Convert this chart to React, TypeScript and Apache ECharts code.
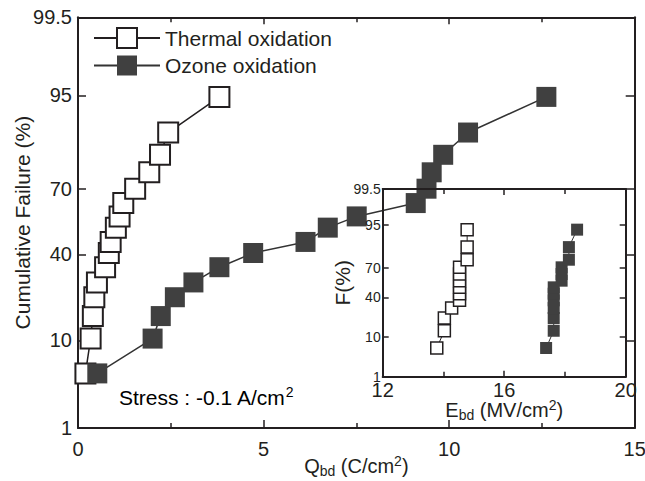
import React, { useEffect, useRef } from "react";
import * as echarts from "echarts";

// ---------- data ----------
// Main plot: charge-to-breakdown Qbd (C/cm2) vs cumulative failure (%)
const mainFailurePct = [4.7, 10.4, 16.1, 22.2, 27.8, 34.2, 40.6, 45.8, 52.6, 57.9, 64.0, 70.2, 76.6, 82.5, 88.5, 94.8];
const thermalQbd = [0.2, 0.34, 0.4, 0.44, 0.51, 0.73, 0.83, 0.88, 1.02, 1.12, 1.22, 1.54, 1.92, 2.21, 2.43, 3.81];
const ozoneQbd = [0.52, 2.01, 2.23, 2.61, 3.11, 3.81, 4.72, 6.13, 6.73, 7.51, 9.1, 9.39, 9.53, 9.84, 10.51, 12.62];

// Inset: breakdown field Ebd (MV/cm2) vs F (%)
const insetFailurePct = [5.75, 13.0, 21.4, 29.7, 37.0, 43.7, 50.3, 57.2, 63.9, 70.2, 76.7, 85.5, 93.5];
const insetThermalEbd = [13.78, 14.03, 14.03, 14.27, 14.53, 14.53, 14.53, 14.53, 14.53, 14.53, 14.78, 14.78, 14.78];
const insetOzoneEbd = [17.38, 17.63, 17.63, 17.63, 17.63, 17.63, 17.63, 17.89, 17.89, 17.89, 18.13, 18.13, 18.4];

// Probability-axis tick labels
const probTickPct = [1, 10, 40, 70, 95, 99.5];
const probTickLabels = ["1", "10", "40", "70", "95", "99.5"];

const seriesNames = ["Thermal oxidation", "Ozone oxidation"];

// ---------- helpers ----------
// inverse standard normal CDF (probit), used as the scale transform of the probability axis
function probit(p: number): number {
  const a = [-3.969683028665376e1, 2.209460984245205e2, -2.759285104469687e2, 1.38357751867269e2, -3.066479806614716e1, 2.506628277459239];
  const b = [-5.447609879822406e1, 1.615858368580409e2, -1.556989798598866e2, 6.680131188771972e1, -1.328068155288572e1];
  const c = [-7.784894002430293e-3, -3.223964580411365e-1, -2.400758277161838, -2.549732539343734, 4.374664141464968, 2.938163982698783];
  const d = [7.784695709041462e-3, 3.224671290700398e-1, 2.445134137142996, 3.754408661907416];
  const pl = 0.02425;
  const ph = 1 - pl;
  if (p < pl) {
    const q = Math.sqrt(-2 * Math.log(p));
    return (((((c[0] * q + c[1]) * q + c[2]) * q + c[3]) * q + c[4]) * q + c[5]) / ((((d[0] * q + d[1]) * q + d[2]) * q + d[3]) * q + 1);
  }
  if (p <= ph) {
    const q = p - 0.5;
    const r = q * q;
    return ((((((a[0] * r + a[1]) * r + a[2]) * r + a[3]) * r + a[4]) * r + a[5]) * q) / (((((b[0] * r + b[1]) * r + b[2]) * r + b[3]) * r + b[4]) * r + 1);
  }
  const q = Math.sqrt(-2 * Math.log(1 - p));
  return -(((((c[0] * q + c[1]) * q + c[2]) * q + c[3]) * q + c[4]) * q + c[5]) / ((((d[0] * q + d[1]) * q + d[2]) * q + d[3]) * q + 1);
}

const FONT = "'Liberation Sans', Arial, Helvetica, sans-serif";
const INK = "#231f20";
const FILL = "#404040";

export default function App() {
  const ref = useRef<HTMLDivElement>(null);

  useEffect(() => {
    if (!ref.current) return;
    const chart = echarts.init(ref.current, undefined, { renderer: "svg" });

    const tickZ = probTickPct.map((p) => probit(p / 100));
    const zMin = tickZ[0];
    const zMax = tickZ[tickZ.length - 1];
    const fmtProb = (v: number) => {
      let best = 0;
      for (let i = 1; i < tickZ.length; i++) if (Math.abs(tickZ[i] - v) < Math.abs(tickZ[best] - v)) best = i;
      return probTickLabels[best];
    };

    const rich = {
      n: { fontSize: 20, fontFamily: FONT, color: INK, lineHeight: 24 },
      sub: { fontSize: 14, fontFamily: FONT, color: INK, lineHeight: 10, verticalAlign: "bottom" },
      sup: { fontSize: 14, fontFamily: FONT, color: INK, lineHeight: 12, verticalAlign: "top" },
    };
    const richStress = {
      n: { fontSize: 21, fontFamily: FONT, color: INK, lineHeight: 24 },
      sup: { fontSize: 14, fontFamily: FONT, color: INK, lineHeight: 12, verticalAlign: "top" },
    };

    const axisLine = { show: true, onZero: false, lineStyle: { color: INK, width: 2 } };

    const probAxis = (grid: number, position: string, labels: boolean, tickLen: number, labelSize: number, labelMargin: number, extra: any = {}) => ({
      type: "value",
      gridIndex: grid,
      position,
      min: zMin,
      max: zMax,
      z: grid === 1 ? 5 : 0,
      axisLine,
      splitLine: { show: false },
      axisTick: { show: true, inside: true, length: tickLen, customValues: tickZ, lineStyle: { color: INK, width: 1.5 } },
      axisLabel: {
        show: labels,
        customValues: tickZ,
        formatter: fmtProb,
        fontSize: labelSize,
        fontFamily: FONT,
        color: INK,
        margin: labelMargin,
      },
      ...extra,
    });

    const option: any = {
      animation: false,
      backgroundColor: "#fff",
      grid: [
        { left: 78, top: 17.3, right: 10.3, bottom: 53, outerBoundsMode: "none", containLabel: false },
        { left: 382.7, top: 189, right: 19.3, bottom: 104.3, outerBoundsMode: "none", containLabel: false },
      ],
      legend: {
        data: seriesNames,
        orient: "vertical",
        left: 93,
        top: 27,
        padding: 0,
        itemWidth: 66,
        itemHeight: 25,
        itemGap: 6,
        textStyle: { fontSize: 21, fontFamily: FONT, color: INK },
      },
      xAxis: [
        {
          type: "value",
          gridIndex: 0,
          position: "bottom",
          min: 0,
          max: 15,
          interval: 5,
          axisLine,
          splitLine: { show: false },
          axisTick: { inside: true, length: 8, lineStyle: { color: INK, width: 1.5 } },
          minorTick: { show: true, splitNumber: 2, length: 5, lineStyle: { color: INK, width: 1.5 } },
          minorSplitLine: { show: false },
          axisLabel: { fontSize: 20, fontFamily: FONT, color: INK, margin: 11 },
          name: "{n|Q}{sub|bd}{n| (C/cm}{sup|2}{n|)}",
          nameLocation: "middle",
          nameGap: 26,
          nameMoveOverlap: false,
          nameTextStyle: { rich },
        },
        {
          type: "value",
          gridIndex: 0,
          position: "top",
          min: 0,
          max: 15,
          interval: 5,
          axisLine,
          splitLine: { show: false },
          axisTick: { inside: true, length: 7, lineStyle: { color: INK, width: 1.5 } },
          minorTick: { show: true, splitNumber: 2, length: 5, lineStyle: { color: INK, width: 1.5 } },
          axisLabel: { show: false },
        },
        {
          type: "value",
          gridIndex: 1,
          position: "bottom",
          min: 12,
          max: 20,
          interval: 4,
          z: 5,
          axisLine,
          splitLine: { show: false },
          axisTick: { inside: true, length: 6, lineStyle: { color: INK, width: 1.5 } },
          minorTick: { show: true, splitNumber: 2, length: 5, lineStyle: { color: INK, width: 1.5 } },
          axisLabel: { fontSize: 20, fontFamily: FONT, color: INK, margin: 3 },
          name: "{n|E}{sub|bd}{n| (MV/cm}{sup|2}{n|)}",
          nameLocation: "middle",
          nameGap: 21,
          nameMoveOverlap: false,
          nameTextStyle: { rich },
        },
        {
          type: "value",
          gridIndex: 1,
          position: "top",
          min: 12,
          max: 20,
          interval: 4,
          z: 5,
          axisLine,
          splitLine: { show: false },
          axisTick: { inside: true, length: 6, lineStyle: { color: INK, width: 1.5 } },
          minorTick: { show: true, splitNumber: 2, length: 5, lineStyle: { color: INK, width: 1.5 } },
          axisLabel: { show: false },
        },
      ],
      yAxis: [
        probAxis(0, "left", true, 8, 20, 6, {
          name: "Cumulative Failure (%)",
          nameLocation: "middle",
          nameGap: 45,
          nameMoveOverlap: false,
          nameTextStyle: { fontSize: 21, fontFamily: FONT, color: INK },
        }),
        probAxis(0, "right", false, 9, 20, 6),
        probAxis(1, "left", true, 6, 14, 2, {
          name: "F(%)",
          nameLocation: "middle",
          nameGap: 30,
          nameMoveOverlap: false,
          nameTextStyle: { fontSize: 21, fontFamily: FONT, color: INK },
        }),
        probAxis(1, "right", false, 6, 14, 2),
      ],
      series: [
        {
          name: seriesNames[0],
          type: "line",
          xAxisIndex: 0,
          yAxisIndex: 0,
          data: thermalQbd.map((q, i) => [q, probit(mainFailurePct[i] / 100)]),
          symbol: "rect",
          symbolSize: 20,
          itemStyle: { color: "#fff", borderColor: INK, borderWidth: 2 },
          lineStyle: { color: INK, width: 1.5 },
          z: 2,
        },
        {
          name: seriesNames[1],
          type: "line",
          xAxisIndex: 0,
          yAxisIndex: 0,
          data: ozoneQbd.map((q, i) => [q, probit(mainFailurePct[i] / 100)]),
          symbol: "rect",
          symbolSize: 20,
          itemStyle: { color: FILL, borderWidth: 0 },
          lineStyle: { color: "#333", width: 1.5 },
          z: 3,
        },
        {
          name: "inset thermal",
          type: "line",
          xAxisIndex: 2,
          yAxisIndex: 2,
          data: insetThermalEbd.map((e, i) => [e, probit(insetFailurePct[i] / 100)]),
          symbol: "rect",
          symbolSize: 12,
          itemStyle: { color: "#fff", borderColor: INK, borderWidth: 1.5 },
          lineStyle: { color: INK, width: 1 },
          z: 2,
        },
        {
          name: "inset ozone",
          type: "line",
          xAxisIndex: 2,
          yAxisIndex: 2,
          data: insetOzoneEbd.map((e, i) => [e, probit(insetFailurePct[i] / 100)]),
          symbol: "rect",
          symbolSize: 12,
          itemStyle: { color: FILL, borderWidth: 0 },
          lineStyle: { color: "#333", width: 1 },
          z: 2,
        },
      ],
      graphic: [
        {
          type: "text",
          left: 119,
          top: 385,
          style: {
            text: "{n|Stress : -0.1 A/cm}{sup|2}",
            rich: richStress,
          },
        },
      ],
    };

    chart.setOption(option);
    return () => chart.dispose();
  }, []);

  return <div ref={ref} style={{ width: 645, height: 481, position: "absolute", left: 0, top: 0 }} />;
}
